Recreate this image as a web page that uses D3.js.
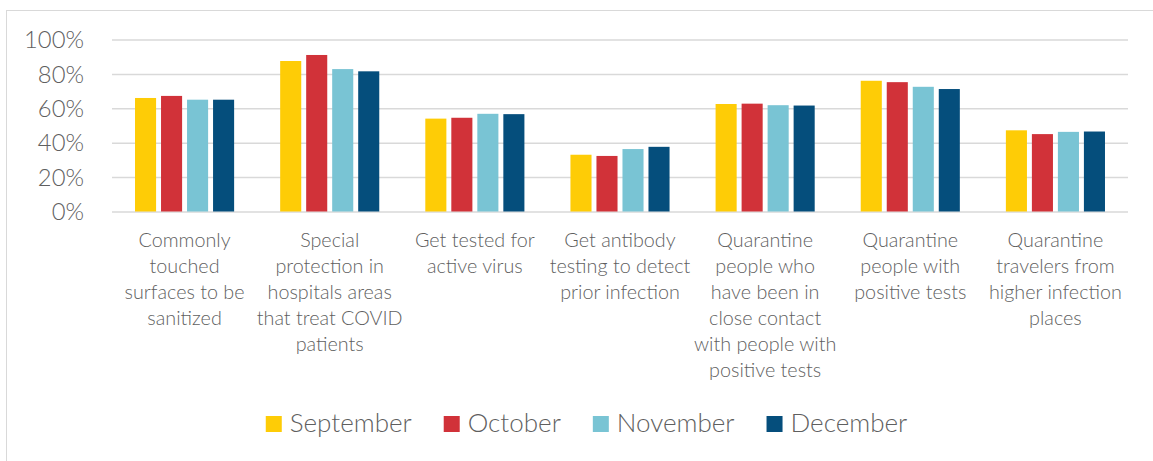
<!DOCTYPE html>
<html>
<head>
<meta charset="utf-8">
<script src="https://cdn.jsdelivr.net/npm/d3@7"></script>
<style>
  html, body { margin: 0; padding: 0; background: #fff; }
  svg { display: block; }
  text { font-family: Lato, "Open Sans", sans-serif; font-weight: 300; fill: #5f5f5f; }
</style>
</head>
<body>
<svg id="chart" width="1153" height="461"></svg>
<script>
// categories (already broken into lines as in the picture)
const categories = [
  ["Commonly", "touched", "surfaces to be", "sanitized"],
  ["Special", "protection in", "hospitals areas", "that treat COVID", "patients"],
  ["Get tested for", "active virus"],
  ["Get antibody", "testing to detect", "prior infection"],
  ["Quarantine", "people who", "have been in", "close contact", "with people with", "positive tests"],
  ["Quarantine", "people with", "positive tests"],
  ["Quarantine", "travelers from", "higher infection", "places"]
];
const months = ["September", "October", "November", "December"];
const september = [0.66, 0.875, 0.54, 0.33, 0.625, 0.76, 0.472];
const october   = [0.672, 0.91, 0.545, 0.323, 0.627, 0.752, 0.45];
const november  = [0.65, 0.828, 0.568, 0.363, 0.618, 0.725, 0.463];
const december  = [0.65, 0.815, 0.566, 0.376, 0.616, 0.712, 0.465];
const yTicks = [0, 0.2, 0.4, 0.6, 0.8, 1];
const colors = ["#fecc06", "#d13239", "#79c4d4", "#054e7c"];

const series = [september, october, november, december];

const svg = d3.select("#chart");
const margin = { left: 112, right: 25, top: 40, bottom: 250 };
const W = 1153, H = 461;

// pick a font size so a sample string has the measured width
function fitSize(sample, target) {
  const t = svg.append("text").attr("font-size", 100).text(sample);
  const w = t.node().getComputedTextLength();
  t.remove();
  return 100 * target / w;
}
const tickSize = fitSize("100%", 60);
const catSize = fitSize("surfaces to be", 120);
const legSize = fitSize("September", 122);

// outer frame
svg.append("rect")
  .attr("x", 6.5).attr("y", 10.5)
  .attr("width", 1200).attr("height", 500)
  .attr("fill", "none")
  .attr("stroke", "#d9d9d9");

const x0 = d3.scaleBand()
  .domain(d3.range(categories.length))
  .range([margin.left, W - margin.right]);

const x1 = d3.scaleBand()
  .domain(months)
  .range([0, x0.bandwidth()])
  .paddingInner(0.19)
  .paddingOuter(0.885);

const y = d3.scaleLinear().domain([0, 1]).range([211.5, 39.5]);

// gridlines + y labels
const yAxis = d3.axisLeft(y)
  .tickValues(yTicks)
  .tickFormat(d3.format(".0%"))
  .tickSize(-(W - margin.right - margin.left))
  .tickPadding(28);

const ga = svg.append("g")
  .attr("transform", `translate(${margin.left},0)`)
  .call(yAxis);
ga.select(".domain").remove();
ga.selectAll(".tick line").attr("stroke", "#d9d9d9").attr("stroke-width", 1.5);
ga.selectAll(".tick text")
  .attr("font-size", tickSize)
  .attr("fill", null)
  .attr("font-family", null)
  .attr("dy", "0.34em");

// bars
const groups = svg.append("g").selectAll("g")
  .data(categories)
  .join("g")
  .attr("transform", (d, i) => `translate(${x0(i)},0)`);

groups.selectAll("rect")
  .data((d, i) => months.map((m, j) => ({ m, j, v: series[j][i] })))
  .join("rect")
  .attr("x", d => x1(d.m))
  .attr("width", x1.bandwidth())
  .attr("y", d => y(d.v))
  .attr("height", d => y(0) - y(d.v))
  .attr("fill", d => colors[d.j]);

// category labels
const lineH = 26;
svg.append("g").selectAll("text")
  .data(categories)
  .join("text")
  .attr("text-anchor", "middle")
  .attr("font-size", catSize)
  .attr("x", (d, i) => x0(i) + x0.bandwidth() / 2)
  .attr("y", 247)
  .selectAll("tspan")
  .data(d => d)
  .join("tspan")
  .attr("x", function () { return this.parentNode.getAttribute("x"); })
  .attr("dy", (d, i) => i === 0 ? 0 : lineH)
  .text(d => d);

// legend
const leg = svg.append("g");
const items = leg.selectAll("g")
  .data(months)
  .join("g");
items.append("rect")
  .attr("width", 16).attr("height", 16)
  .attr("y", 416)
  .attr("fill", (d, i) => colors[i]);
items.append("text")
  .attr("x", 24)
  .attr("y", 432)
  .attr("font-size", legSize)
  .text(d => d);

let cx = 0;
items.each(function () {
  const w = d3.select(this).select("text").node().getComputedTextLength();
  d3.select(this).attr("transform", `translate(${cx},0)`);
  cx += 24 + w + 32;
});
const total = cx - 32;
leg.attr("transform", `translate(${586.5 - total / 2},0)`);
</script>
</body>
</html>
